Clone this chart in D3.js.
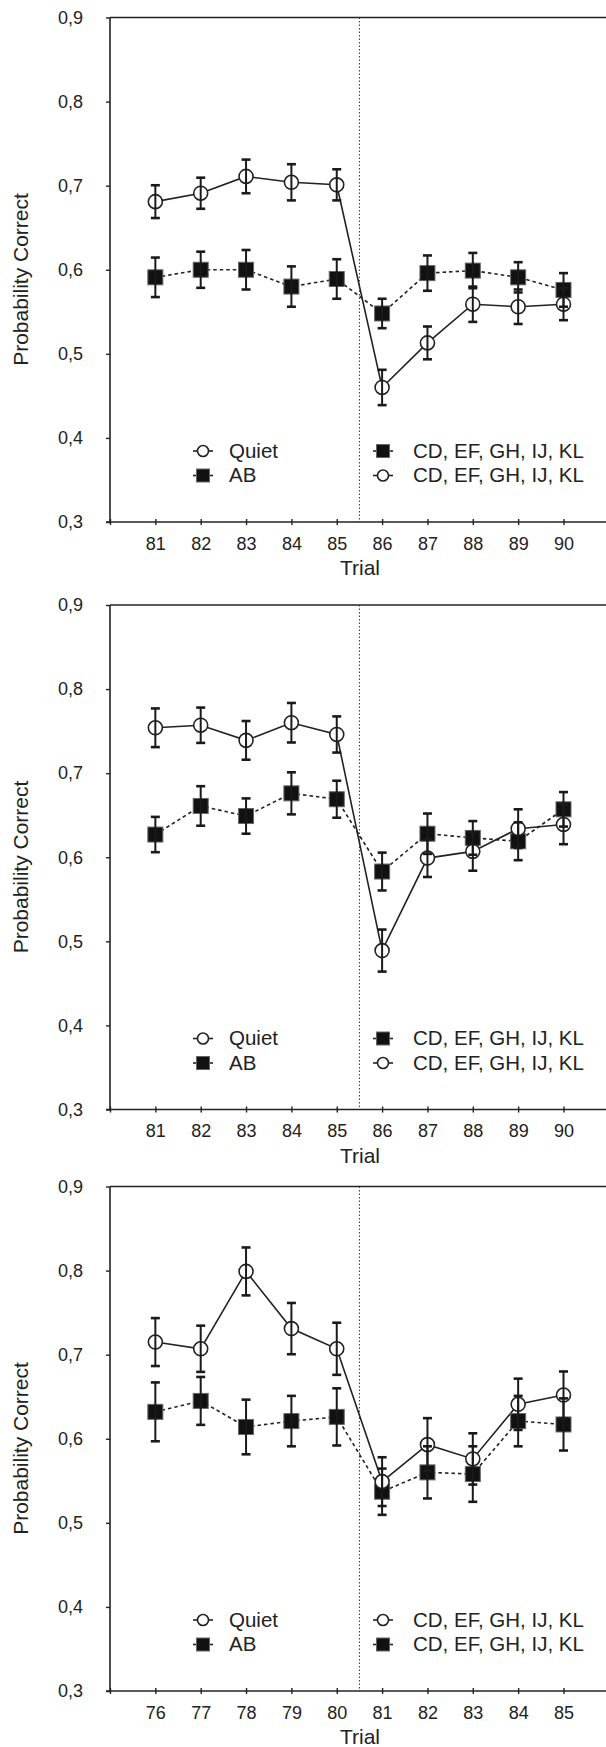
<!DOCTYPE html>
<html>
<head>
<meta charset="utf-8">
<script src="https://cdn.jsdelivr.net/npm/d3@7"></script>
<style>
  body { margin: 0; background: #fff; }
  text { font-family: "Liberation Sans", Arial, sans-serif; fill: #222; }
</style>
</head>
<body>
<div class="content"></div>
<script>
// Trials shown in each panel
var trialsA = [81, 82, 83, 84, 85, 86, 87, 88, 89, 90];
var trialsC = [76, 77, 78, 79, 80, 81, 82, 83, 84, 85];

// Panel 1 values (circles = solid line, squares = dotted line) and +/- error
var circles1 = [0.681, 0.691, 0.711, 0.704, 0.701, 0.460, 0.513, 0.559, 0.556, 0.559];
var circlesErr1 = [0.0195, 0.0185, 0.020, 0.0215, 0.0185, 0.021, 0.0195, 0.021, 0.0205, 0.019];
var squares1 = [0.591, 0.600, 0.600, 0.580, 0.589, 0.548, 0.596, 0.599, 0.591, 0.576];
var squaresErr1 = [0.0235, 0.0215, 0.0235, 0.024, 0.0235, 0.0175, 0.021, 0.021, 0.018, 0.020];

// Panel 2
var circles2 = [0.754, 0.757, 0.739, 0.760, 0.746, 0.489, 0.599, 0.607, 0.634, 0.639];
var circlesErr2 = [0.023, 0.021, 0.023, 0.0235, 0.0215, 0.025, 0.0225, 0.023, 0.023, 0.0235];
var squares2 = [0.627, 0.661, 0.649, 0.676, 0.669, 0.583, 0.628, 0.623, 0.619, 0.657];
var squaresErr2 = [0.021, 0.0235, 0.021, 0.025, 0.022, 0.0225, 0.024, 0.020, 0.0225, 0.0205];

// Panel 3
var circles3 = [0.715, 0.707, 0.799, 0.731, 0.707, 0.549, 0.593, 0.576, 0.641, 0.652];
var circlesErr3 = [0.0285, 0.0275, 0.0285, 0.0305, 0.031, 0.029, 0.0315, 0.0305, 0.0305, 0.028];
var squares3 = [0.632, 0.645, 0.614, 0.621, 0.626, 0.537, 0.560, 0.558, 0.621, 0.617];
var squaresErr3 = [0.035, 0.0285, 0.0325, 0.030, 0.034, 0.0275, 0.031, 0.033, 0.030, 0.031];

// Axis ticks and labels
var yTicks = [0.3, 0.4, 0.5, 0.6, 0.7, 0.8, 0.9];
var yTitle = "Probability Correct";
var xTitle = "Trial";
var leftLegend = [{label: "Quiet", shape: "circle"}, {label: "AB", shape: "square"}];
var rightLegendAB = [{label: "CD, EF, GH, IJ, KL", shape: "square"}, {label: "CD, EF, GH, IJ, KL", shape: "circle"}];
var rightLegendC = [{label: "CD, EF, GH, IJ, KL", shape: "circle"}, {label: "CD, EF, GH, IJ, KL", shape: "square"}];

var panels = [
  {top: 17.5, trials: trialsA, circles: circles1, cErr: circlesErr1, squares: squares1, sErr: squaresErr1, right: rightLegendAB},
  {top: 605, trials: trialsA, circles: circles2, cErr: circlesErr2, squares: squares2, sErr: squaresErr2, right: rightLegendAB},
  {top: 1186.5, trials: trialsC, circles: circles3, cErr: circlesErr3, squares: squares3, sErr: squaresErr3, right: rightLegendC}
];

var W = 606, H = 1747;
var left = 110, plotH = 504.5;
var ink = "#222";

var svg = d3.select(".content").append("svg")
    .attr("width", W)
    .attr("height", H);

panels.forEach(function(p) {
  var g = svg.append("g").attr("transform", "translate(0," + p.top + ")");

  var t0 = p.trials[0];
  var x = d3.scaleLinear()
    .domain([t0 - 1, t0 + 10])
    .range([left, left + 11 * 45.35]);
  var y = d3.scaleLinear()
    .domain([0.3, 0.9])
    .range([plotH, 0]);

  // frame lines
  g.append("line").attr("x1", left).attr("x2", W).attr("y1", 0).attr("y2", 0)
    .attr("stroke", ink).attr("stroke-width", 1.6);
  g.append("line").attr("x1", left).attr("x2", left).attr("y1", 0).attr("y2", plotH)
    .attr("stroke", ink).attr("stroke-width", 1.6);
  g.append("line").attr("x1", left - 4).attr("x2", W).attr("y1", plotH).attr("y2", plotH)
    .attr("stroke", ink).attr("stroke-width", 1.6);

  // Y axis
  var yAxis = g.append("g")
    .attr("transform", "translate(" + left + ",0)")
    .call(d3.axisLeft(y).tickValues(yTicks).tickSize(4).tickSizeOuter(0).tickPadding(23)
      .tickFormat(function(d) { return d3.format(".1f")(d).replace(".", ","); }));
  yAxis.select(".domain").remove();
  yAxis.selectAll(".tick line").attr("stroke", ink).attr("stroke-width", 1.4);
  yAxis.selectAll("text").attr("font-size", 18).attr("font-family", null).style("fill", ink);

  // X axis
  var allTicks = d3.range(t0 - 1, t0 + 11);
  var xAxis = g.append("g")
    .attr("transform", "translate(0," + plotH + ")")
    .call(d3.axisBottom(x).tickValues(allTicks).tickSize(3).tickSizeOuter(0).tickPadding(12)
      .tickFormat(function(d) { return p.trials.indexOf(d) >= 0 ? d : ""; }));
  xAxis.select(".domain").remove();
  xAxis.selectAll(".tick line").attr("y1", -3).attr("y2", 3).attr("stroke", ink).attr("stroke-width", 1.4);
  xAxis.selectAll("text").attr("font-size", 18).attr("font-family", null).style("fill", ink);

  // titles
  g.append("text")
    .attr("transform", "translate(20," + 262 + ") rotate(-90)")
    .attr("text-anchor", "middle")
    .attr("dominant-baseline", "central")
    .attr("font-size", 21)
    .text(yTitle);
  g.append("text")
    .attr("x", 360)
    .attr("y", plotH + 53)
    .attr("text-anchor", "middle")
    .attr("font-size", 21)
    .text(xTitle);

  // dotted divider between the two phases
  g.append("line")
    .attr("x1", x(t0 + 4.5)).attr("x2", x(t0 + 4.5))
    .attr("y1", 0).attr("y2", plotH)
    .attr("stroke", "#333").attr("stroke-width", 1)
    .attr("stroke-dasharray", "1.5,2");

  var sqData = p.trials.map(function(t, i) { return {t: t, v: p.squares[i], e: p.sErr[i]}; });
  var ciData = p.trials.map(function(t, i) { return {t: t, v: p.circles[i], e: p.cErr[i]}; });

  var line = d3.line()
    .x(function(d) { return x(d.t); })
    .y(function(d) { return y(d.v); });

  g.append("path")
    .attr("d", line(sqData))
    .attr("fill", "none")
    .attr("stroke", ink)
    .attr("stroke-width", 1.6)
    .attr("stroke-dasharray", "3.5,3");
  g.append("path")
    .attr("d", line(ciData))
    .attr("fill", "none")
    .attr("stroke", ink)
    .attr("stroke-width", 1.6);

  // markers
  g.selectAll(".sq")
    .data(sqData)
    .enter()
    .append("rect")
      .attr("class", "sq")
      .attr("x", function(d) { return x(d.t) - 7.5; })
      .attr("y", function(d) { return y(d.v) - 7.5; })
      .attr("width", 15)
      .attr("height", 15)
      .attr("fill", "#111")
      .attr("stroke", "#666")
      .attr("stroke-width", 1);
  g.selectAll(".ci")
    .data(ciData)
    .enter()
    .append("circle")
      .attr("class", "ci")
      .attr("cx", function(d) { return x(d.t); })
      .attr("cy", function(d) { return y(d.v); })
      .attr("r", 7)
      .attr("fill", "#fff")
      .attr("stroke", ink)
      .attr("stroke-width", 1.6);

  // error bars on top
  var bars = g.selectAll(".err")
    .data(sqData.concat(ciData))
    .enter()
    .append("g")
      .attr("class", "err")
      .attr("stroke", "#1a1a1a")
      .attr("stroke-width", 2);
  bars.append("line")
    .attr("x1", function(d) { return x(d.t); })
    .attr("x2", function(d) { return x(d.t); })
    .attr("y1", function(d) { return y(d.v + d.e); })
    .attr("y2", function(d) { return y(d.v - d.e); });
  bars.append("line")
    .attr("x1", function(d) { return x(d.t) - 4.5; })
    .attr("x2", function(d) { return x(d.t) + 4.5; })
    .attr("y1", function(d) { return y(d.v + d.e); })
    .attr("y2", function(d) { return y(d.v + d.e); })
    .attr("stroke-width", 2.6);
  bars.append("line")
    .attr("x1", function(d) { return x(d.t) - 4.5; })
    .attr("x2", function(d) { return x(d.t) + 4.5; })
    .attr("y1", function(d) { return y(d.v - d.e); })
    .attr("y2", function(d) { return y(d.v - d.e); })
    .attr("stroke-width", 2.6);

  // legends
  function drawLegend(items, mx, tx) {
    items.forEach(function(item, i) {
      var base = 440 + i * 24.5;
      var cy = base - 6.5;
      var lg = g.append("g");
      lg.append("line")
        .attr("x1", mx - 10).attr("x2", mx + 10)
        .attr("y1", cy).attr("y2", cy)
        .attr("stroke", ink).attr("stroke-width", 1.6);
      if (item.shape === "circle") {
        lg.append("circle")
          .attr("cx", mx).attr("cy", cy).attr("r", 5.5)
          .attr("fill", "#fff").attr("stroke", ink).attr("stroke-width", 1.6);
      } else {
        lg.append("rect")
          .attr("x", mx - 6.5).attr("y", cy - 6.5)
          .attr("width", 13).attr("height", 13)
          .attr("fill", "#111").attr("stroke", "#666").attr("stroke-width", 1);
      }
      lg.append("text")
        .attr("x", tx)
        .attr("y", base)
        .attr("font-size", 20.5)
        .text(item.label);
    });
  }
  drawLegend(leftLegend, 203, 229);
  drawLegend(p.right, 383, 413);
});
</script>
</body>
</html>
